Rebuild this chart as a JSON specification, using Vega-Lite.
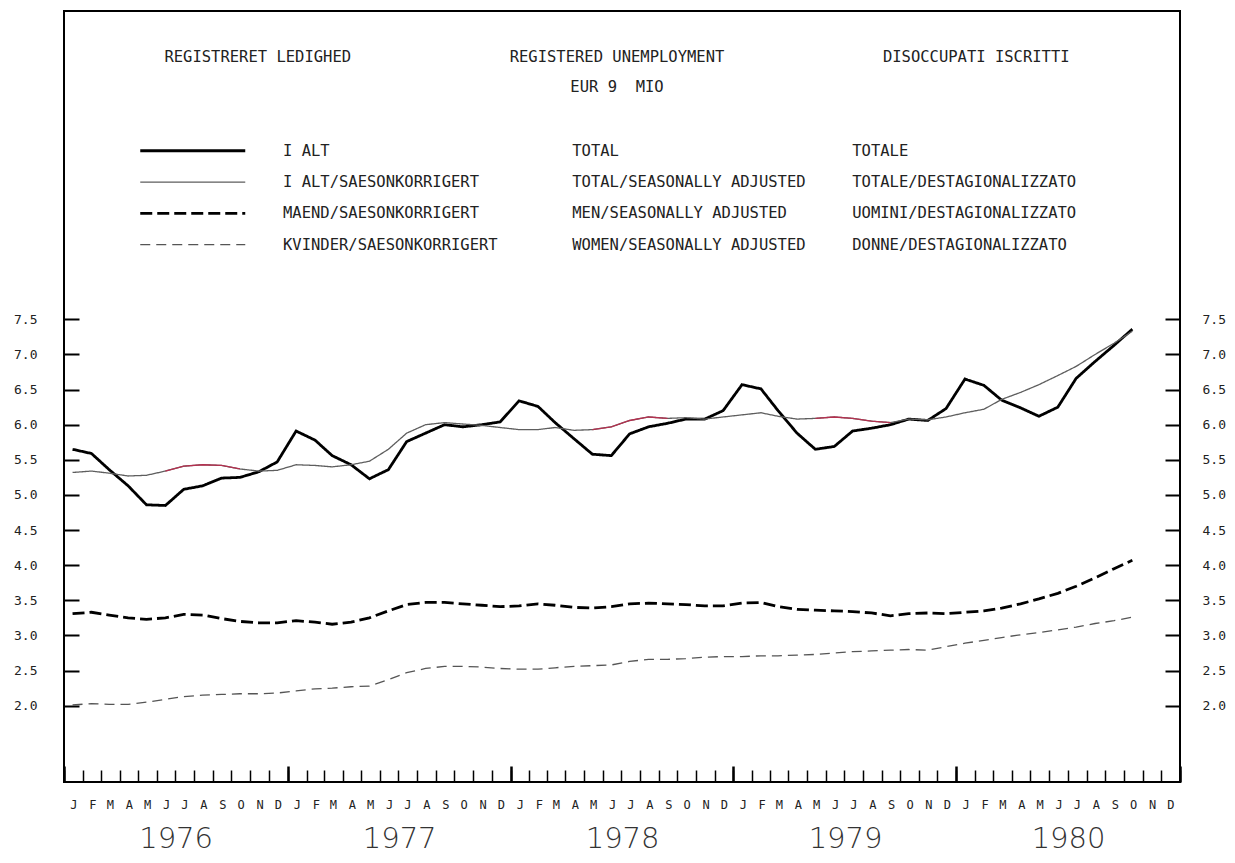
{
"$schema":"https://vega.github.io/schema/vega-lite/v6.json",
"width":1116,"height":771,
"autosize":{"type":"none"},
"padding":{"left":64,"top":11,"right":55,"bottom":81},
"background":"white",
"title":{
"text":"REGISTRERET LEDIGHED\u00a0\u00a0\u00a0\u00a0\u00a0\u00a0\u00a0\u00a0\u00a0\u00a0\u00a0\u00a0\u00a0\u00a0\u00a0\u00a0\u00a0REGISTERED UNEMPLOYMENT\u00a0\u00a0\u00a0\u00a0\u00a0\u00a0\u00a0\u00a0\u00a0\u00a0\u00a0\u00a0\u00a0\u00a0\u00a0\u00a0\u00a0DISOCCUPATI ISCRITTI",
"subtitle":"EUR 9\u00a0\u00a0MIO",
"anchor":"middle","frame":"group","orient":"top","offset":-84,"dx":-5,
"font":"DejaVu Sans Mono","fontSize":15.5,"fontWeight":"normal","color":"#222",
"subtitleFont":"DejaVu Sans Mono","subtitleFontSize":15.5,"subtitleColor":"#222","subtitlePadding":14
},
"config":{
"font":"DejaVu Sans Mono",
"view":{"stroke":"#000","strokeWidth":2},
"axis":{"domain":false,"grid":false,"labelFont":"DejaVu Sans Mono","labelColor":"#222","tickColor":"#000"}
},
"data":{"values":[
{"date":"1976-01-15","series":"total","value":5.65},{"date":"1976-02-15","series":"total","value":5.59},{"date":"1976-03-15","series":"total","value":5.36},{"date":"1976-04-15","series":"total","value":5.13},{"date":"1976-05-15","series":"total","value":4.86},{"date":"1976-06-15","series":"total","value":4.85},{"date":"1976-07-15","series":"total","value":5.08},{"date":"1976-08-15","series":"total","value":5.13},{"date":"1976-09-15","series":"total","value":5.24},{"date":"1976-10-15","series":"total","value":5.25},{"date":"1976-11-15","series":"total","value":5.33},{"date":"1976-12-15","series":"total","value":5.47},
{"date":"1977-01-15","series":"total","value":5.91},{"date":"1977-02-15","series":"total","value":5.78},{"date":"1977-03-15","series":"total","value":5.56},{"date":"1977-04-15","series":"total","value":5.43},{"date":"1977-05-15","series":"total","value":5.23},{"date":"1977-06-15","series":"total","value":5.36},{"date":"1977-07-15","series":"total","value":5.76},{"date":"1977-08-15","series":"total","value":5.88},{"date":"1977-09-15","series":"total","value":6.0},{"date":"1977-10-15","series":"total","value":5.97},{"date":"1977-11-15","series":"total","value":6.0},{"date":"1977-12-15","series":"total","value":6.04},
{"date":"1978-01-15","series":"total","value":6.34},{"date":"1978-02-15","series":"total","value":6.26},{"date":"1978-03-15","series":"total","value":6.03},{"date":"1978-04-15","series":"total","value":5.8},{"date":"1978-05-15","series":"total","value":5.58},{"date":"1978-06-15","series":"total","value":5.56},{"date":"1978-07-15","series":"total","value":5.87},{"date":"1978-08-15","series":"total","value":5.97},{"date":"1978-09-15","series":"total","value":6.02},{"date":"1978-10-15","series":"total","value":6.08},{"date":"1978-11-15","series":"total","value":6.08},{"date":"1978-12-15","series":"total","value":6.2},
{"date":"1979-01-15","series":"total","value":6.57},{"date":"1979-02-15","series":"total","value":6.51},{"date":"1979-03-15","series":"total","value":6.2},{"date":"1979-04-15","series":"total","value":5.88},{"date":"1979-05-15","series":"total","value":5.65},{"date":"1979-06-15","series":"total","value":5.69},{"date":"1979-07-15","series":"total","value":5.91},{"date":"1979-08-15","series":"total","value":5.95},{"date":"1979-09-15","series":"total","value":6.0},{"date":"1979-10-15","series":"total","value":6.08},{"date":"1979-11-15","series":"total","value":6.06},{"date":"1979-12-15","series":"total","value":6.23},
{"date":"1980-01-15","series":"total","value":6.65},{"date":"1980-02-15","series":"total","value":6.56},{"date":"1980-03-15","series":"total","value":6.35},{"date":"1980-04-15","series":"total","value":6.24},{"date":"1980-05-15","series":"total","value":6.12},{"date":"1980-06-15","series":"total","value":6.25},{"date":"1980-07-15","series":"total","value":6.66},{"date":"1980-08-15","series":"total","value":6.9},{"date":"1980-09-15","series":"total","value":7.13},{"date":"1980-10-15","series":"total","value":7.36},
{"date":"1976-01-15","series":"sa","value":5.32},{"date":"1976-02-15","series":"sa","value":5.34},{"date":"1976-03-15","series":"sa","value":5.31},{"date":"1976-04-15","series":"sa","value":5.27},{"date":"1976-05-15","series":"sa","value":5.28},{"date":"1976-06-15","series":"sa","value":5.34},{"date":"1976-07-15","series":"sa","value":5.41},{"date":"1976-08-15","series":"sa","value":5.43},{"date":"1976-09-15","series":"sa","value":5.42},{"date":"1976-10-15","series":"sa","value":5.37},{"date":"1976-11-15","series":"sa","value":5.34},{"date":"1976-12-15","series":"sa","value":5.35},
{"date":"1977-01-15","series":"sa","value":5.43},{"date":"1977-02-15","series":"sa","value":5.42},{"date":"1977-03-15","series":"sa","value":5.4},{"date":"1977-04-15","series":"sa","value":5.43},{"date":"1977-05-15","series":"sa","value":5.48},{"date":"1977-06-15","series":"sa","value":5.65},{"date":"1977-07-15","series":"sa","value":5.88},{"date":"1977-08-15","series":"sa","value":6.0},{"date":"1977-09-15","series":"sa","value":6.03},{"date":"1977-10-15","series":"sa","value":6.01},{"date":"1977-11-15","series":"sa","value":5.99},{"date":"1977-12-15","series":"sa","value":5.96},
{"date":"1978-01-15","series":"sa","value":5.93},{"date":"1978-02-15","series":"sa","value":5.93},{"date":"1978-03-15","series":"sa","value":5.96},{"date":"1978-04-15","series":"sa","value":5.92},{"date":"1978-05-15","series":"sa","value":5.93},{"date":"1978-06-15","series":"sa","value":5.97},{"date":"1978-07-15","series":"sa","value":6.06},{"date":"1978-08-15","series":"sa","value":6.11},{"date":"1978-09-15","series":"sa","value":6.09},{"date":"1978-10-15","series":"sa","value":6.1},{"date":"1978-11-15","series":"sa","value":6.08},{"date":"1978-12-15","series":"sa","value":6.11},
{"date":"1979-01-15","series":"sa","value":6.14},{"date":"1979-02-15","series":"sa","value":6.17},{"date":"1979-03-15","series":"sa","value":6.12},{"date":"1979-04-15","series":"sa","value":6.08},{"date":"1979-05-15","series":"sa","value":6.09},{"date":"1979-06-15","series":"sa","value":6.11},{"date":"1979-07-15","series":"sa","value":6.09},{"date":"1979-08-15","series":"sa","value":6.05},{"date":"1979-09-15","series":"sa","value":6.03},{"date":"1979-10-15","series":"sa","value":6.08},{"date":"1979-11-15","series":"sa","value":6.07},{"date":"1979-12-15","series":"sa","value":6.11},
{"date":"1980-01-15","series":"sa","value":6.17},{"date":"1980-02-15","series":"sa","value":6.22},{"date":"1980-03-15","series":"sa","value":6.36},{"date":"1980-04-15","series":"sa","value":6.46},{"date":"1980-05-15","series":"sa","value":6.57},{"date":"1980-06-15","series":"sa","value":6.7},{"date":"1980-07-15","series":"sa","value":6.83},{"date":"1980-08-15","series":"sa","value":7.0},{"date":"1980-09-15","series":"sa","value":7.16},{"date":"1980-10-15","series":"sa","value":7.33},
{"date":"1976-01-15","series":"men","value":3.31},{"date":"1976-02-15","series":"men","value":3.33},{"date":"1976-03-15","series":"men","value":3.29},{"date":"1976-04-15","series":"men","value":3.25},{"date":"1976-05-15","series":"men","value":3.23},{"date":"1976-06-15","series":"men","value":3.25},{"date":"1976-07-15","series":"men","value":3.3},{"date":"1976-08-15","series":"men","value":3.29},{"date":"1976-09-15","series":"men","value":3.24},{"date":"1976-10-15","series":"men","value":3.2},{"date":"1976-11-15","series":"men","value":3.18},{"date":"1976-12-15","series":"men","value":3.18},
{"date":"1977-01-15","series":"men","value":3.21},{"date":"1977-02-15","series":"men","value":3.19},{"date":"1977-03-15","series":"men","value":3.16},{"date":"1977-04-15","series":"men","value":3.19},{"date":"1977-05-15","series":"men","value":3.25},{"date":"1977-06-15","series":"men","value":3.35},{"date":"1977-07-15","series":"men","value":3.44},{"date":"1977-08-15","series":"men","value":3.47},{"date":"1977-09-15","series":"men","value":3.47},{"date":"1977-10-15","series":"men","value":3.45},{"date":"1977-11-15","series":"men","value":3.43},{"date":"1977-12-15","series":"men","value":3.41},
{"date":"1978-01-15","series":"men","value":3.42},{"date":"1978-02-15","series":"men","value":3.45},{"date":"1978-03-15","series":"men","value":3.43},{"date":"1978-04-15","series":"men","value":3.4},{"date":"1978-05-15","series":"men","value":3.39},{"date":"1978-06-15","series":"men","value":3.41},{"date":"1978-07-15","series":"men","value":3.45},{"date":"1978-08-15","series":"men","value":3.46},{"date":"1978-09-15","series":"men","value":3.45},{"date":"1978-10-15","series":"men","value":3.44},{"date":"1978-11-15","series":"men","value":3.42},{"date":"1978-12-15","series":"men","value":3.42},
{"date":"1979-01-15","series":"men","value":3.46},{"date":"1979-02-15","series":"men","value":3.47},{"date":"1979-03-15","series":"men","value":3.41},{"date":"1979-04-15","series":"men","value":3.37},{"date":"1979-05-15","series":"men","value":3.36},{"date":"1979-06-15","series":"men","value":3.35},{"date":"1979-07-15","series":"men","value":3.34},{"date":"1979-08-15","series":"men","value":3.32},{"date":"1979-09-15","series":"men","value":3.28},{"date":"1979-10-15","series":"men","value":3.31},{"date":"1979-11-15","series":"men","value":3.32},{"date":"1979-12-15","series":"men","value":3.31},
{"date":"1980-01-15","series":"men","value":3.33},{"date":"1980-02-15","series":"men","value":3.35},{"date":"1980-03-15","series":"men","value":3.39},{"date":"1980-04-15","series":"men","value":3.45},{"date":"1980-05-15","series":"men","value":3.52},{"date":"1980-06-15","series":"men","value":3.6},{"date":"1980-07-15","series":"men","value":3.7},{"date":"1980-08-15","series":"men","value":3.82},{"date":"1980-09-15","series":"men","value":3.95},{"date":"1980-10-15","series":"men","value":4.07},
{"date":"1976-01-15","series":"women","value":2.01},{"date":"1976-02-15","series":"women","value":2.03},{"date":"1976-03-15","series":"women","value":2.02},{"date":"1976-04-15","series":"women","value":2.02},{"date":"1976-05-15","series":"women","value":2.05},{"date":"1976-06-15","series":"women","value":2.09},{"date":"1976-07-15","series":"women","value":2.13},{"date":"1976-08-15","series":"women","value":2.15},{"date":"1976-09-15","series":"women","value":2.16},{"date":"1976-10-15","series":"women","value":2.17},{"date":"1976-11-15","series":"women","value":2.17},{"date":"1976-12-15","series":"women","value":2.18},
{"date":"1977-01-15","series":"women","value":2.21},{"date":"1977-02-15","series":"women","value":2.24},{"date":"1977-03-15","series":"women","value":2.25},{"date":"1977-04-15","series":"women","value":2.27},{"date":"1977-05-15","series":"women","value":2.28},{"date":"1977-06-15","series":"women","value":2.37},{"date":"1977-07-15","series":"women","value":2.47},{"date":"1977-08-15","series":"women","value":2.53},{"date":"1977-09-15","series":"women","value":2.56},{"date":"1977-10-15","series":"women","value":2.56},{"date":"1977-11-15","series":"women","value":2.55},{"date":"1977-12-15","series":"women","value":2.53},
{"date":"1978-01-15","series":"women","value":2.52},{"date":"1978-02-15","series":"women","value":2.52},{"date":"1978-03-15","series":"women","value":2.54},{"date":"1978-04-15","series":"women","value":2.56},{"date":"1978-05-15","series":"women","value":2.57},{"date":"1978-06-15","series":"women","value":2.58},{"date":"1978-07-15","series":"women","value":2.63},{"date":"1978-08-15","series":"women","value":2.66},{"date":"1978-09-15","series":"women","value":2.66},{"date":"1978-10-15","series":"women","value":2.67},{"date":"1978-11-15","series":"women","value":2.69},{"date":"1978-12-15","series":"women","value":2.7},
{"date":"1979-01-15","series":"women","value":2.7},{"date":"1979-02-15","series":"women","value":2.71},{"date":"1979-03-15","series":"women","value":2.71},{"date":"1979-04-15","series":"women","value":2.72},{"date":"1979-05-15","series":"women","value":2.73},{"date":"1979-06-15","series":"women","value":2.75},{"date":"1979-07-15","series":"women","value":2.77},{"date":"1979-08-15","series":"women","value":2.78},{"date":"1979-09-15","series":"women","value":2.79},{"date":"1979-10-15","series":"women","value":2.8},{"date":"1979-11-15","series":"women","value":2.79},{"date":"1979-12-15","series":"women","value":2.84},
{"date":"1980-01-15","series":"women","value":2.89},{"date":"1980-02-15","series":"women","value":2.93},{"date":"1980-03-15","series":"women","value":2.97},{"date":"1980-04-15","series":"women","value":3.01},{"date":"1980-05-15","series":"women","value":3.04},{"date":"1980-06-15","series":"women","value":3.08},{"date":"1980-07-15","series":"women","value":3.12},{"date":"1980-08-15","series":"women","value":3.17},{"date":"1980-09-15","series":"women","value":3.21},{"date":"1980-10-15","series":"women","value":3.26}
]},
"layer":[
{
"mark":{"type":"line"},
"encoding":{
"x":{"field":"date","type":"temporal","scale":{"type":"utc","domain":[{"year":1976,"month":1,"date":1,"utc":true},{"year":1981,"month":1,"date":1,"utc":true}]},
"axis":{"orient":"bottom","title":null,"tickCount":{"interval":"month","step":1},"tickSize":-12,"tickWidth":1.5,"tickColor":"#000","labelPadding":29,"labelOffset":9.3,"labelExpr":"utcyear(datum.value) > 1980 ? '' : upper(substring(utcFormat(datum.value, '%b'), 0, 1))","labelFontSize":12,"labelFlush":false,"labelOverlap":false,"labelBound":false,"labelAlign":"center","labelBaseline":"top","domain":false,"grid":false}},
"y":{"field":"value","type":"quantitative","scale":{"domain":[0.914,11.889],"nice":false,"zero":false},
"axis":{"orient":"left","title":null,"values":[2,2.5,3,3.5,4,4.5,5,5.5,6,6.5,7,7.5],"format":".1f","tickSize":-15,"tickWidth":2,"labelPadding":42,"labelFontSize":13,"domain":false,"grid":false}},
"color":{"field":"series","type":"nominal","scale":{"domain":["total","sa","men","women"],"range":["#000000","#5e5e5e","#000000","#555555"]},
"legend":{"title":null,"orient":"none","legendX":121,"legendY":132,"padding":0,"symbolType":"M-10.5,0H10.5","symbolSize":100,"labelFont":"DejaVu Sans Mono","labelFontSize":15.5,"labelColor":"#222","labelLimit":1200,"labelOffset":82.5,"rowPadding":14.3,
"labelExpr":"datum.label == 'total' ? 'I ALT\u00a0\u00a0\u00a0\u00a0\u00a0\u00a0\u00a0\u00a0\u00a0\u00a0\u00a0\u00a0\u00a0\u00a0\u00a0\u00a0\u00a0\u00a0\u00a0\u00a0\u00a0\u00a0\u00a0\u00a0\u00a0\u00a0TOTAL\u00a0\u00a0\u00a0\u00a0\u00a0\u00a0\u00a0\u00a0\u00a0\u00a0\u00a0\u00a0\u00a0\u00a0\u00a0\u00a0\u00a0\u00a0\u00a0\u00a0\u00a0\u00a0\u00a0\u00a0\u00a0TOTALE' : datum.label == 'sa' ? 'I ALT/SAESONKORRIGERT\u00a0\u00a0\u00a0\u00a0\u00a0\u00a0\u00a0\u00a0\u00a0\u00a0TOTAL/SEASONALLY ADJUSTED\u00a0\u00a0\u00a0\u00a0\u00a0TOTALE/DESTAGIONALIZZATO' : datum.label == 'men' ? 'MAEND/SAESONKORRIGERT\u00a0\u00a0\u00a0\u00a0\u00a0\u00a0\u00a0\u00a0\u00a0\u00a0MEN/SEASONALLY ADJUSTED\u00a0\u00a0\u00a0\u00a0\u00a0\u00a0\u00a0UOMINI/DESTAGIONALIZZATO' : 'KVINDER/SAESONKORRIGERT\u00a0\u00a0\u00a0\u00a0\u00a0\u00a0\u00a0\u00a0WOMEN/SEASONALLY ADJUSTED\u00a0\u00a0\u00a0\u00a0\u00a0DONNE/DESTAGIONALIZZATO'"}},
"strokeWidth":{"field":"series","type":"nominal","scale":{"type":"ordinal","domain":["total","sa","men","women"],"range":[2.8,1.3,2.8,1.3]},"legend":{"title":null}},
"strokeDash":{"field":"series","type":"nominal","scale":{"domain":["total","sa","men","women"],"range":[[1,0],[1,0],[12,5],[10,6]]},"legend":{"title":null}}
}
},
{
"transform":[{"filter":{"and":[{"field":"series","equal":"sa"},{"field":"date","range":[{"year":1976,"month":6,"date":1,"utc":true},{"year":1976,"month":10,"date":30,"utc":true}]}]}}],
"mark":{"type":"line","color":"#b5304f","strokeWidth":1.3},
"encoding":{
"x":{"field":"date","type":"temporal","scale":{"type":"utc","domain":[{"year":1976,"month":1,"date":1,"utc":true},{"year":1981,"month":1,"date":1,"utc":true}]},
"axis":{"orient":"bottom","title":null,"tickCount":{"interval":"year","step":1},"tickSize":-16,"tickWidth":2.5,"tickColor":"#000","labelPadding":58,"labelOffset":111.6,"labelExpr":"utcyear(datum.value) > 1980 ? '' : utcFormat(datum.value, '%Y')","labelFont":"DejaVu Sans","labelFontWeight":200,"labelFontSize":29,"labelColor":"#333","labelFlush":false,"labelOverlap":false,"labelBound":false,"labelAlign":"center","labelBaseline":"top","domain":false,"grid":false}},
"y":{"field":"value","type":"quantitative","scale":{"domain":[0.914,11.889],"nice":false,"zero":false},
"axis":{"orient":"right","title":null,"values":[2,2.5,3,3.5,4,4.5,5,5.5,6,6.5,7,7.5],"format":".1f","tickSize":-15,"tickWidth":2,"labelPadding":37,"labelFontSize":13,"domain":false,"grid":false}}
}
},
{
"transform":[{"filter":{"and":[{"field":"series","equal":"sa"},{"field":"date","range":[{"year":1978,"month":5,"date":1,"utc":true},{"year":1978,"month":9,"date":30,"utc":true}]}]}}],
"mark":{"type":"line","color":"#b5304f","strokeWidth":1.3},
"encoding":{
"x":{"field":"date","type":"temporal","scale":{"type":"utc","domain":[{"year":1976,"month":1,"date":1,"utc":true},{"year":1981,"month":1,"date":1,"utc":true}]},"axis":null},
"y":{"field":"value","type":"quantitative","scale":{"domain":[0.914,11.889],"nice":false,"zero":false},"axis":null}
}
},
{
"transform":[{"filter":{"and":[{"field":"series","equal":"sa"},{"field":"date","range":[{"year":1979,"month":5,"date":1,"utc":true},{"year":1979,"month":9,"date":30,"utc":true}]}]}}],
"mark":{"type":"line","color":"#b5304f","strokeWidth":1.3},
"encoding":{
"x":{"field":"date","type":"temporal","scale":{"type":"utc","domain":[{"year":1976,"month":1,"date":1,"utc":true},{"year":1981,"month":1,"date":1,"utc":true}]},"axis":null},
"y":{"field":"value","type":"quantitative","scale":{"domain":[0.914,11.889],"nice":false,"zero":false},"axis":null}
}
}
],
"resolve":{"axis":{"x":"independent","y":"independent"}}
}
